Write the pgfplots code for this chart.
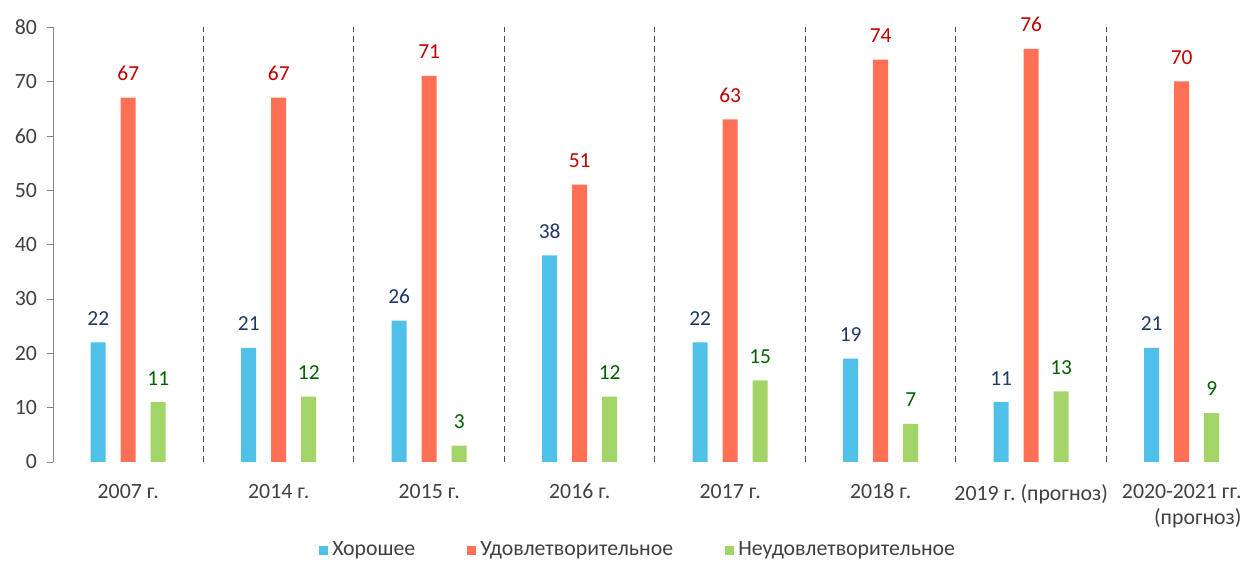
\documentclass[border=0pt]{standalone}
\usepackage{fontspec}
\setmainfont{Carlito}
\usepackage{pgfplots}
\pgfplotsset{compat=1.18}
\frenchspacing
\definecolor{cblue}{HTML}{4FC1E9}
\definecolor{cred}{HTML}{FF7055}
\definecolor{cgreen}{HTML}{A2D468}
\definecolor{tblue}{HTML}{1F3864}
\definecolor{tred}{HTML}{C00000}
\definecolor{tgreen}{HTML}{006100}
\definecolor{tgray}{HTML}{404040}
\definecolor{agray}{HTML}{868686}
\begin{document}
\begin{tikzpicture}
\begin{axis}[
  at={(26.5pt,49.5pt)}, anchor=south west,
  scale only axis, width=598pt, height=217.5pt,
  xmin=-0.5, xmax=7.447, ymin=0, ymax=80,
  ybar, bar width=7.5pt,
  axis lines*=left,
  x axis line style={draw=none},
  y axis line style={agray},
  ytick={0,10,...,80},
  tick align=outside, major tick length=3pt,
  ytick style={agray},
  xtick={0,...,7},
  xtick style={draw=none},
  xticklabels={2007 г., 2014 г., 2015 г., 2016 г., 2017 г., 2018 г., 2019 г. (прогноз), {2020-2021 гг.\\(прогноз)}},
  xticklabel style={align=right, font=\fontsize{10.9}{13}\selectfont, text=tgray, yshift=-4.5pt},
  yticklabel style={font=\fontsize{10.9}{12}\selectfont, text=tgray, xshift=-1.5pt},
  extra x ticks={0.5,1.5,...,6.5},
  extra x tick labels={},
  extra x tick style={grid=major, major grid style={dashed, black!70, line width=0.5pt, dash pattern=on 3pt off 2pt}, major tick length=0pt},
  /pgf/number format/assume math mode=true,
  nodes near coords,
  nodes near coords style={font=\fontsize{10.7}{12}\selectfont, yshift=5pt},
  legend columns=3,
  legend style={at={(0.49,-0.203)}, anchor=center, draw=none, fill=none,
    font=\fontsize{10.9}{12}\selectfont, text=tgray,
    /tikz/every even column/.append style={column sep=24pt},
    inner sep=0pt},
  legend image code/.code={\fill[#1] (0pt,-2.4pt) rectangle (4.6pt,2.2pt);},
  clip=false,
]
\addplot[fill=cblue, draw=none, bar shift=-15pt, nodes near coords style={text=tblue}] coordinates {(0,22) (1,21) (2,26) (3,38) (4,22) (5,19) (6,11) (7,21)};
\addplot[fill=cred, draw=none, bar shift=0pt, nodes near coords style={text=tred}] coordinates {(0,67) (1,67) (2,71) (3,51) (4,63) (5,74) (6,76) (7,70)};
\addplot[fill=cgreen, draw=none, bar shift=15pt, nodes near coords style={text=tgreen}] coordinates {(0,11) (1,12) (2,3) (3,12) (4,15) (5,7) (6,13) (7,9)};
\legend{Хорошее, Удовлетворительное, Неудовлетворительное}
\end{axis}
\pgfresetboundingbox
\path[use as bounding box] (0,0) rectangle (624.5pt,280.5pt);
\end{tikzpicture}
\end{document}
